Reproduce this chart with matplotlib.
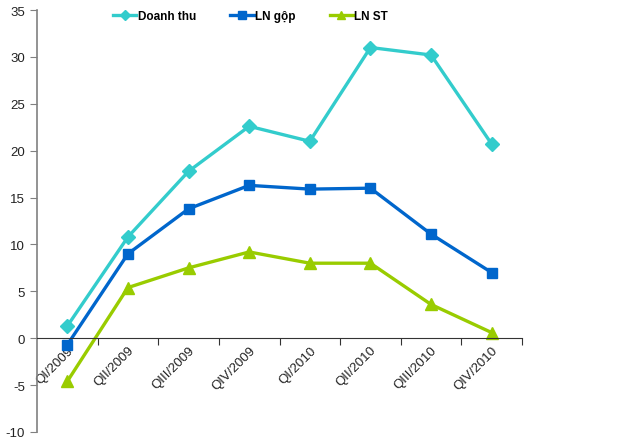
import matplotlib.pyplot as plt
import numpy as np

quarters = ['QI/2009', 'QII/2009', 'QIII/2009', 'QIV/2009',
            'QI/2010', 'QII/2010', 'QIII/2010', 'QIV/2010']
doanh_thu = [1.3, 10.8, 17.8, 22.6, 21.0, 31.0, 30.2, 20.7]
ln_gop = [-0.7, 9.0, 13.8, 16.3, 15.9, 16.0, 11.1, 7.0]
ln_st = [-4.6, 5.4, 7.5, 9.2, 8.0, 8.0, 3.6, 0.6]

plt.rcParams['font.family'] = ['Liberation Sans', 'DejaVu Sans']
plt.rcParams['axes.unicode_minus'] = False

fig = plt.figure(figsize=(6.34, 4.39), dpi=100)
ax = fig.add_axes([37 / 634, 6 / 439, (522 - 37) / 634, 422 / 439])

x = np.arange(len(quarters))
ax.plot(x, doanh_thu, color='#33CCCC', lw=2.4, marker='D', ms=7, label='Doanh thu')
ax.plot(x, ln_gop, color='#0066CC', lw=2.4, marker='s', ms=7, label='LN gộp')
ax.plot(x, ln_st, color='#99CC00', lw=2.4, marker='^', ms=8, label='LN ST')

ax.set_xlim(-0.5, len(quarters) - 0.5)
ax.set_ylim(-10, 35)
ax.set_yticks(range(-10, 36, 5))
ax.tick_params(axis='y', direction='out', length=5, color='#808080', labelsize=9.5,
               labelcolor='#222222')

ax.spines['top'].set_visible(False)
ax.spines['right'].set_visible(False)
ax.spines['left'].set_color('#808080')
ax.spines['left'].set_linewidth(1.2)
ax.spines['bottom'].set_position(('data', 0))
ax.spines['bottom'].set_color('#333333')

ax.set_xticks(np.arange(0.5, len(quarters), 1))
ax.set_xticklabels([])
ax.tick_params(axis='x', which='major', direction='out', length=5, color='#333333')
ax.set_xticks(x, minor=True)
ax.set_xticklabels(quarters, minor=True, rotation=45, ha='right', rotation_mode='anchor',
                   fontsize=9.5, color='#222222')
ax.tick_params(axis='x', which='minor', length=0, pad=4)

ax.legend(loc='upper center', bbox_to_anchor=(0.44, 1.025), ncol=3, frameon=False,
          prop={'weight': 'bold', 'size': 8.5}, handlelength=2.0, handletextpad=0.1,
          columnspacing=2.9, markerscale=0.75)

fig.savefig('out.png', dpi=100)
